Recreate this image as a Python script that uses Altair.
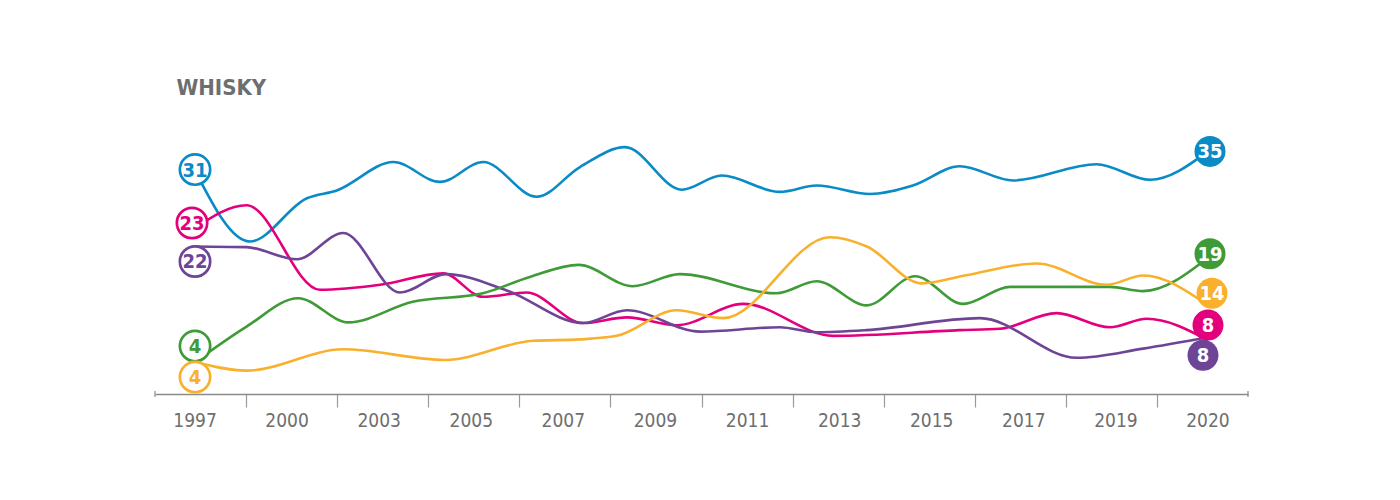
import altair as alt
import pandas as pd

# ---------------- data ----------------
years = ["1997", "2000", "2003", "2005", "2007", "2009", "2011", "2013", "2015", "2017", "2019", "2020"]
year_pos = [0, 2, 4, 6, 8, 10, 12, 14, 16, 18, 20, 22]

blue_t = [0, 1.19, 2.43, 3.08, 4.31, 5.32, 6.26, 7.42, 8.36, 9.34, 10.57, 11.44, 12.70, 13.50, 14.66, 15.59, 16.61, 17.77, 19.58, 20.74, 22]
blue_v = [31.0, 21.0, 27.1, 28.2, 32.2, 29.4, 32.2, 27.3, 31.5, 34.3, 28.3, 30.3, 28.0, 28.9, 27.7, 28.9, 31.6, 29.6, 31.9, 29.7, 33.7]

pink_t = [0, 1.12, 2.71, 4.02, 5.39, 6.25, 7.20, 8.43, 9.38, 10.46, 11.91, 13.86, 16.61, 17.48, 18.71, 19.87, 20.67, 22]
pink_v = [22.9, 26.1, 14.2, 14.9, 16.5, 13.2, 13.8, 9.5, 10.3, 9.2, 12.2, 7.7, 8.5, 8.7, 10.9, 8.9, 10.1, 7.1]

purple_t = [0, 1.12, 2.21, 3.22, 4.45, 5.45, 6.77, 8.43, 9.38, 10.97, 12.70, 13.50, 14.59, 17.05, 19.15, 20.59, 22]
purple_v = [20.3, 20.2, 18.5, 22.2, 13.8, 16.4, 14.1, 9.5, 11.3, 8.3, 8.9, 8.2, 8.5, 10.2, 4.6, 5.9, 7.5]

green_t = [0, 1.12, 2.24, 3.33, 4.73, 6.25, 7.27, 8.33, 9.51, 10.53, 12.63, 13.50, 14.59, 15.64, 16.68, 17.70, 19.87, 20.59, 22]
green_v = [4.0, 9.0, 13.0, 9.6, 12.5, 13.7, 16.0, 17.7, 14.7, 16.4, 13.7, 15.4, 12.0, 16.1, 12.2, 14.6, 14.6, 14.0, 18.7]

orange_t = [0, 1.12, 3.22, 5.43, 7.34, 8.36, 9.16, 10.46, 11.47, 13.79, 14.59, 15.78, 16.72, 18.28, 19.80, 20.59, 22]
orange_v = [4.0, 2.8, 5.8, 4.3, 7.0, 7.2, 7.7, 11.3, 10.2, 21.6, 20.3, 15.1, 16.2, 17.9, 14.9, 16.2, 12.0]

series_names = ["blue", "pink", "purple", "green", "orange"]
start_labels = ["31", "23", "22", "4", "4"]
end_labels = ["35", "8", "8", "19", "14"]

# ---------------- styles ----------------
colors = ["#0a8bc6", "#e4007d", "#6e4596", "#3e9b37", "#f9b02d"]
start_dx = [0, -3, 0, 0, 0]
start_dy = [-1, -5, 15, -16, 15]
end_dx = [2, 0, -5, 2, 4]
end_dy = [0, -15, 18, -4, -12]

FONT = "DejaVu Sans Condensed, DejaVu Sans, sans-serif"
GREY = "#6d6e70"
W, H = 1093, 266
XMIN, XMAX = -0.869, 22.869
YMIN, YMAX = -0.5, 37

all_t = [blue_t, pink_t, purple_t, green_t, orange_t]
all_v = [blue_v, pink_v, purple_v, green_v, orange_v]

rows = []
for name, ts, vs in zip(series_names, all_t, all_v):
    for i, (t, v) in enumerate(zip(ts, vs)):
        rows.append({"series": name, "t": t, "v": v, "i": i})
df = pd.DataFrame(rows)

xscale = alt.Scale(domain=[XMIN, XMAX], nice=False, zero=False)
yscale = alt.Scale(domain=[YMIN, YMAX], nice=False, zero=False)
band = (XMAX - XMIN) / len(years)
tick_vals = [XMIN + band * k for k in range(1, len(years))]

x_enc = alt.X("t:Q", scale=xscale,
              axis=alt.Axis(values=tick_vals, labels=False, title=None, grid=False,
                            tickSize=13, tickColor="#9a9a9a", tickWidth=1.2,
                            domainColor="#8a8a8a", domainWidth=1.5))
y_enc = alt.Y("v:Q", scale=yscale, axis=None)

lines = alt.Chart(df).mark_line(interpolate="monotone", strokeWidth=2.6).encode(
    x=x_enc, y=y_enc,
    color=alt.Color("series:N", scale=alt.Scale(domain=series_names, range=colors), legend=None),
    order="i:Q",
)

ends_df = pd.DataFrame({"t": [XMIN, XMAX]})
end_ticks = alt.Chart(ends_df).mark_rule(color="#8a8a8a", strokeWidth=1.2).encode(
    x=alt.X("t:Q", scale=xscale), y=alt.value(H - 3), y2=alt.value(H + 3))

years_df = pd.DataFrame({"t": year_pos, "year": years})
year_text = alt.Chart(years_df).mark_text(
    font=FONT, fontSize=19, color=GREY, baseline="alphabetic", align="center"
).encode(x=alt.X("t:Q", scale=xscale), y=alt.value(H + 33), text="year:N")

layers = [lines, end_ticks, year_text]

for k, name in enumerate(series_names):
    ts, vs = all_t[k], all_v[k]
    sdf = pd.DataFrame({"t": [ts[0]], "v": [vs[0]], "lab": [start_labels[k]]})
    layers.append(alt.Chart(sdf).mark_point(
        shape="circle", filled=True, fill="white", stroke=colors[k], strokeWidth=2.7,
        size=920, opacity=1, xOffset=start_dx[k], yOffset=start_dy[k]
    ).encode(x=alt.X("t:Q", scale=xscale), y=alt.Y("v:Q", scale=yscale)))
    layers.append(alt.Chart(sdf).mark_text(
        font=FONT, fontWeight="bold", fontSize=20, color=colors[k], align="center",
        baseline="middle", dx=start_dx[k], dy=start_dy[k] + 1
    ).encode(x=alt.X("t:Q", scale=xscale), y=alt.Y("v:Q", scale=yscale), text="lab:N"))

end_order = [0, 3, 4, 1, 2]
for k in end_order:
    ts, vs = all_t[k], all_v[k]
    edf = pd.DataFrame({"t": [ts[-1]], "v": [vs[-1]], "lab": [end_labels[k]]})
    layers.append(alt.Chart(edf).mark_circle(
        color=colors[k], size=960, opacity=1, xOffset=end_dx[k], yOffset=end_dy[k]
    ).encode(x=alt.X("t:Q", scale=xscale), y=alt.Y("v:Q", scale=yscale)))
    layers.append(alt.Chart(edf).mark_text(
        font=FONT, fontWeight="bold", fontSize=20, color="white", align="center",
        baseline="middle", dx=end_dx[k], dy=end_dy[k] + 1
    ).encode(x=alt.X("t:Q", scale=xscale), y=alt.Y("v:Q", scale=yscale), text="lab:N"))

chart = alt.layer(*layers).properties(
    width=W, height=H,
    autosize=alt.AutoSizeParams(type="none"),
    padding={"left": 147, "top": 120, "right": 60, "bottom": 60},
    background="white",
    title=alt.TitleParams("WHISKY", anchor="start", dx=22, offset=28, font=FONT,
                          fontSize=22, fontWeight="bold", color=GREY),
).configure_view(stroke=None)

chart.save("out.html", embed_options={"renderer": "svg", "actions": False})
